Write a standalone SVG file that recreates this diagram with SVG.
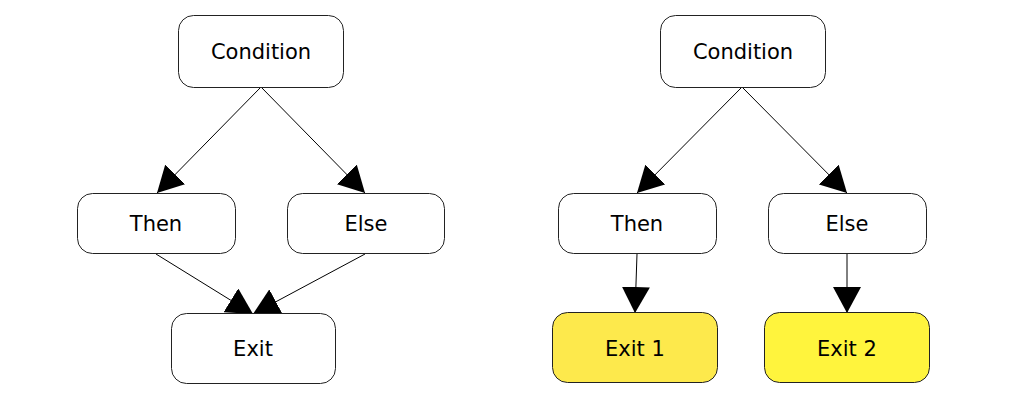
<svg xmlns="http://www.w3.org/2000/svg" width="1016" height="400" viewBox="0 0 1016 400">
<style>
.n{fill:#fff;stroke:#222;stroke-width:1}
.y1{fill:#fde94c;stroke:#222;stroke-width:1}
.y2{fill:#fff43d;stroke:#222;stroke-width:1}
.t{font-family:"DejaVu Sans",sans-serif;font-size:21px;fill:#000;text-anchor:middle}
.e{stroke:#000;stroke-width:1;fill:none;marker-end:url(#ah)}
</style>
<defs>
<marker id="ah" markerUnits="userSpaceOnUse" markerWidth="28" markerHeight="28" refX="26" refY="14" orient="auto" viewBox="0 0 28 28">
<path d="M0,0 L26,14 L0,28 z" fill="#000"/>
</marker>
</defs>
<rect width="1016" height="400" fill="#fff"/>
<g id="connectors">
<line class="e" x1="261" y1="87" x2="157" y2="193"/>
<line class="e" x1="261" y1="87" x2="365" y2="193"/>
<line class="e" x1="156" y1="254" x2="253" y2="314"/>
<line class="e" x1="365" y1="254" x2="253" y2="314"/>
<line class="e" x1="742" y1="87" x2="637" y2="193"/>
<line class="e" x1="742" y1="87" x2="847" y2="193"/>
<line class="e" x1="637" y1="254" x2="635" y2="313"/>
<line class="e" x1="847" y1="254" x2="847" y2="313"/>
</g>
<g id="cond1"><rect class="n" x="178.5" y="15.5" width="165" height="72" rx="15"/><text class="t" x="261" y="59">Condition</text></g>
<g id="then1"><rect class="n" x="77.5" y="193.5" width="158" height="60" rx="15"/><text class="t" x="156" y="231">Then</text></g>
<g id="else1"><rect class="n" x="287.5" y="193.5" width="157" height="60" rx="15"/><text class="t" x="366" y="231">Else</text></g>
<g id="exit"><rect class="n" x="171.5" y="313.5" width="164" height="70" rx="15"/><text class="t" x="253" y="356">Exit</text></g>
<g id="cond2"><rect class="n" x="660.5" y="15.5" width="165" height="72" rx="15"/><text class="t" x="743" y="59">Condition</text></g>
<g id="then2"><rect class="n" x="558.5" y="193.5" width="158" height="60" rx="15"/><text class="t" x="637" y="231">Then</text></g>
<g id="else2"><rect class="n" x="768.5" y="193.5" width="158" height="60" rx="15"/><text class="t" x="847" y="231">Else</text></g>
<g id="exit1"><rect class="y1" x="552.5" y="312.5" width="165" height="70" rx="15"/><text class="t" x="635" y="356">Exit 1</text></g>
<g id="exit2"><rect class="y2" x="764.5" y="312.5" width="165" height="70" rx="15"/><text class="t" x="847" y="356">Exit 2</text></g>
</svg>
